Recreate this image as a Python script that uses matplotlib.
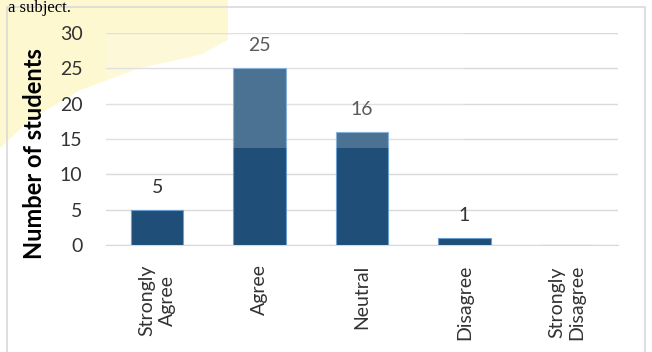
import matplotlib.pyplot as plt
from matplotlib.patches import Polygon, Rectangle

# Respuestas por categoria
categories = ['Strongly\nAgree', 'Agree', 'Neutral', 'Disagree', 'Strongly\nDisagree']
students = [5, 25, 16, 1, 0]
value_labels = ['5', '25', '16', '1', '']
y_ticks = [0, 5, 10, 15, 20, 25, 30]

plt.rcParams['font.family'] = ['Lato', 'DejaVu Sans']

fig = plt.figure(figsize=(6.52, 3.52), dpi=100)

# Marca de agua amarilla en la esquina
W, H = 652, 352
shape = [(0, 0), (228, 0), (228, 40), (200, 55), (140, 68), (80, 90), (30, 120), (0, 148)]
fig.patches.append(Polygon([(x / W, 1 - y / H) for x, y in shape], closed=True,
                           transform=fig.transFigure, facecolor='#fdf8cf',
                           edgecolor='none', zorder=0))

# Marco del grafico
fig.patches.append(Rectangle((7 / W, -0.05), (645 - 7) / W, 1 - 7 / H + 0.05,
                             transform=fig.transFigure, facecolor='none',
                             edgecolor='#d9d9d9', linewidth=1.2, zorder=1))

# Texto del documento arriba
fig.text(8 / W, 1, 'a subject.', family='Liberation Serif', fontsize=12,
         va='top', ha='left', color='black')

ax = fig.add_axes([106 / W, 1 - 245 / H, 512 / W, 212 / H])
ax.set_facecolor('none')
ax.set_zorder(3)

x = range(len(categories))
bars = ax.bar(x, students, width=0.51, color='#1f4e79', edgecolor='#6a9fd0',
              linewidth=0.8, zorder=3)

# Velo claro de la marca de agua sobre las barras
ax.axhspan(13.7, 30, xmin=0.0, xmax=0.7, color='white', alpha=0.2, zorder=4, lw=0)

for i, (v, lab) in enumerate(zip(students, value_labels)):
    if lab:
        ax.text(i, v + 2.0, lab, ha='center', va='bottom', fontsize=14, color='#333333')

ax.set_ylim(0, 30)
ax.set_xlim(-0.5, len(categories) - 0.5)
ax.set_yticks(y_ticks)
ax.set_xticks(list(x))
ax.set_xticklabels(categories, rotation=90, ha='center', va='top',
                   multialignment='center', fontsize=14)
ax.tick_params(axis='both', length=0, labelsize=14, colors='#333333')
ax.tick_params(axis='y', pad=17)
ax.tick_params(axis='x', pad=14)

ax.grid(axis='y', color='#d9d9d9', linewidth=1, zorder=0)
for side in ['top', 'right', 'left']:
    ax.spines[side].set_visible(False)
ax.spines['bottom'].set_color('#d9d9d9')

# Titulo del eje y
fig.text(35 / W, 1 - 154 / H, 'Number of students', rotation=90, ha='center',
         va='center', fontsize=17, fontweight='bold', color='black')

plt.savefig('out.png', dpi=100)
